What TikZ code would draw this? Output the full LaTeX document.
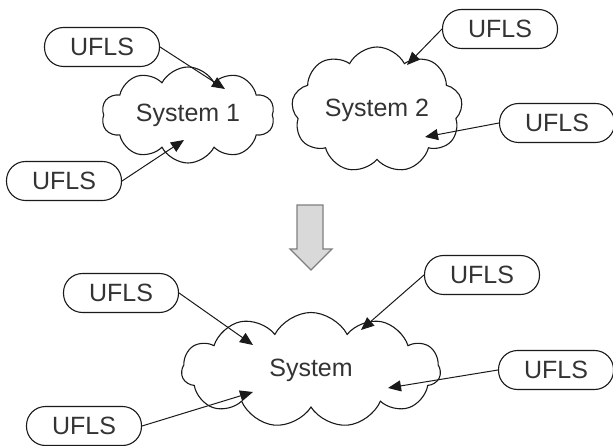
\documentclass[tikz,border=0pt]{standalone}
\usepackage{fontspec}
\setmainfont{Liberation Sans}
\usetikzlibrary{arrows.meta,shapes.symbols}
\definecolor{edge}{HTML}{1A1A1A}
\definecolor{label}{HTML}{333333}
\definecolor{merge}{HTML}{D9D9D9}
\definecolor{mergeline}{HTML}{7F7F7F}

\tikzset{
  ufls/.style={draw=edge,text=label,line width=1.1pt,rounded corners=19pt,minimum width=115pt,
    minimum height=39pt,inner sep=0pt,font=\fontsize{25}{30}\selectfont},
  sys/.style={draw=edge,text=label,line width=1.1pt,cloud,cloud puffs=10,cloud puff arc=125,
    cloud ignores aspect,inner sep=0pt,font=\fontsize{25}{30}\selectfont},
  feed/.style={edge,line width=1pt,-{Triangle[length=13pt,width=11pt]}}
}

\begin{document}
\begin{tikzpicture}[x=1pt,y=-1pt]
  \useasboundingbox (0,0) rectangle (613,446);

  % Two separate systems
  \node[sys,minimum width=173pt,minimum height=96pt] (s1) at (188,115) {System 1};
  \node[sys,minimum width=171pt,minimum height=126pt,cloud puffs=9] (s2) at (377,110) {System 2};

  \node[ufls] (a1) at (102,47) {UFLS};
  \node[ufls] (a2) at (64,181) {UFLS};
  \node[ufls] (b1) at (500,29) {UFLS};
  \node[ufls] (b2) at (557,123) {UFLS};

  \coordinate (ta1) at (225,89);
  \coordinate (ta2) at (184,140);
  \coordinate (tb1) at (407,65);
  \coordinate (tb2) at (425,137);

  \draw[feed] (a1.east) -- (ta1);
  \draw[feed] (a2.east) -- (ta2);
  \draw[feed] (b1.west) -- (tb1);
  \draw[feed] (b2.west) -- (tb2);

  % Merge arrow
  \draw[fill=merge,draw=mergeline,line width=1.1pt] (297,205) -- (323,205) -- (323,249)
    -- (332,249) -- (311,270) -- (290,249) -- (297,249) -- cycle;

  % Merged system
  \node[sys,minimum width=259pt,minimum height=115pt,cloud puffs=11] (s) at (311,370) {System};

  \node[ufls] (c1) at (121,293) {UFLS};
  \node[ufls] (c2) at (84,426) {UFLS};
  \node[ufls] (d1) at (482,275) {UFLS};
  \node[ufls] (d2) at (556,370) {UFLS};

  \coordinate (tc1) at (253,345);
  \coordinate (tc2) at (253,392);
  \coordinate (td1) at (361,330);
  \coordinate (td2) at (388,388);

  \draw[feed] (c1.east) -- (tc1);
  \draw[feed] (c2.east) -- (tc2);
  \draw[feed] (d1.west) -- (td1);
  \draw[feed] (d2.west) -- (td2);
\end{tikzpicture}
\end{document}
